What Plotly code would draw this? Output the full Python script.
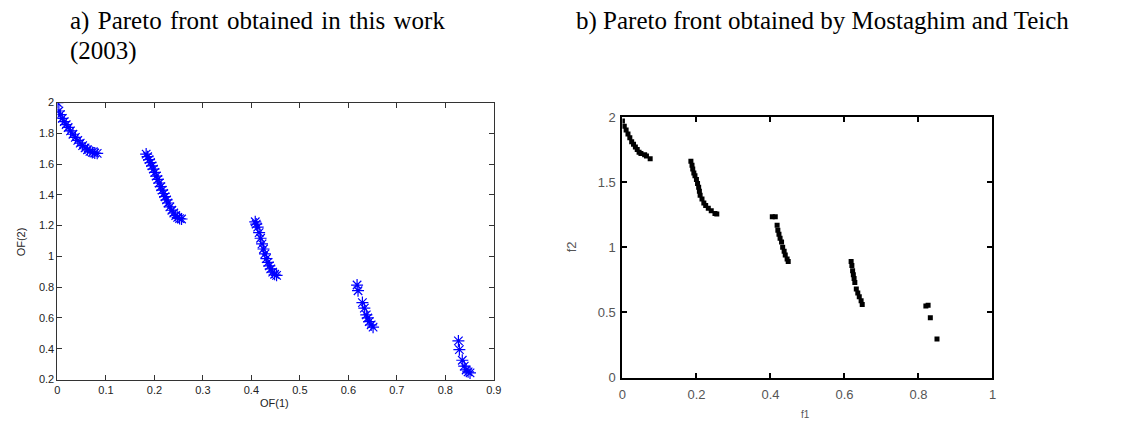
import plotly.graph_objects as go

W, H = 1141, 429

# ---- Data: panel a (this work) ----
a_f1 = [0.000, 0.003, 0.006, 0.010, 0.014, 0.018, 0.022, 0.027, 0.032, 0.037, 0.042, 0.047,
        0.052, 0.057, 0.062, 0.067, 0.072, 0.077, 0.082,
        0.183, 0.186, 0.189, 0.192, 0.195, 0.198, 0.201, 0.204, 0.207, 0.210, 0.213, 0.216,
        0.219, 0.222, 0.225, 0.228, 0.232, 0.236, 0.240, 0.244, 0.248, 0.252, 0.256,
        0.408, 0.410, 0.413, 0.416, 0.419, 0.422, 0.425, 0.428, 0.431, 0.434, 0.437, 0.440,
        0.444, 0.448, 0.452,
        0.618, 0.620, 0.629, 0.633, 0.637, 0.640, 0.643, 0.647, 0.651,
        0.827, 0.829, 0.835, 0.839, 0.843, 0.847, 0.851]
a_f2 = [2.000, 1.945, 1.921, 1.897, 1.876, 1.856, 1.838, 1.816, 1.794, 1.774, 1.754, 1.736,
        1.720, 1.705, 1.693, 1.683, 1.676, 1.672, 1.670,
        1.665, 1.648, 1.629, 1.610, 1.588, 1.567, 1.546, 1.522, 1.500, 1.477, 1.453, 1.431,
        1.409, 1.388, 1.367, 1.347, 1.322, 1.300, 1.282, 1.266, 1.254, 1.246, 1.243,
        1.225, 1.210, 1.190, 1.155, 1.118, 1.081, 1.048, 1.016, 0.986, 0.961, 0.938, 0.919,
        0.898, 0.884, 0.877,
        0.814, 0.777, 0.700, 0.664, 0.620, 0.600, 0.576, 0.555, 0.540,
        0.451, 0.394, 0.325, 0.287, 0.262, 0.250, 0.243]

# ---- Data: panel b (Mostaghim and Teich 2003) ----
b_f1 = [0.000, 0.005, 0.010, 0.015, 0.020, 0.025, 0.030, 0.035, 0.040, 0.045, 0.050, 0.060,
        0.065, 0.075,
        0.185, 0.188, 0.190, 0.193, 0.196, 0.200, 0.203, 0.206, 0.208, 0.210, 0.215, 0.220,
        0.225, 0.232, 0.240, 0.250, 0.255,
        0.405, 0.413, 0.418, 0.420, 0.423, 0.426, 0.430, 0.433, 0.437, 0.440, 0.445, 0.448,
        0.618, 0.620, 0.622, 0.624, 0.626, 0.628, 0.632, 0.636, 0.640, 0.645, 0.648,
        0.820, 0.826, 0.832, 0.850]
b_f2 = [1.970, 1.930, 1.900, 1.870, 1.840, 1.810, 1.790, 1.770, 1.750, 1.730, 1.720, 1.710,
        1.700, 1.680,
        1.660, 1.630, 1.600, 1.570, 1.550, 1.520, 1.490, 1.460, 1.430, 1.400, 1.370, 1.340,
        1.320, 1.300, 1.280, 1.260, 1.255,
        1.235, 1.235, 1.170, 1.130, 1.100, 1.070, 1.040, 1.000, 0.970, 0.940, 0.910, 0.890,
        0.890, 0.860, 0.820, 0.790, 0.760, 0.730, 0.680, 0.650, 0.620, 0.590, 0.560,
        0.550, 0.556, 0.460, 0.296]

a_xticks = [0, 0.1, 0.2, 0.3, 0.4, 0.5, 0.6, 0.7, 0.8, 0.9]
a_xtext = ["0", "0.1", "0.2", "0.3", "0.4", "0.5", "0.6", "0.7", "0.8", "0.9"]
a_yticks = [0.2, 0.4, 0.6, 0.8, 1.0, 1.2, 1.4, 1.6, 1.8, 2.0]
a_ytext = ["0.2", "0.4", "0.6", "0.8", "1", "1.2", "1.4", "1.6", "1.8", "2"]
b_xticks = [0, 0.2, 0.4, 0.6, 0.8, 1.0]
b_xtext = ["0", "0.2", "0.4", "0.6", "0.8", "1"]
b_yticks = [0, 0.5, 1.0, 1.5, 2.0]
b_ytext = ["0", "0.5", "1", "1.5", "2"]

fig = go.Figure()
fig.add_trace(go.Scatter(
    x=a_f1, y=a_f2, mode="markers", xaxis="x", yaxis="y",
    marker=dict(symbol="asterisk-open", size=10, color="#0000ff",
                line=dict(width=1.2, color="#0000ff")),
    showlegend=False))
fig.add_trace(go.Scatter(
    x=b_f1, y=b_f2, mode="markers", xaxis="x2", yaxis="y2",
    marker=dict(symbol="square", size=5, color="black", line=dict(width=0)),
    showlegend=False))

def px(x):
    return x / W

def py(y):
    return 1 - y / H

axa = dict(showline=True, linecolor="#333", linewidth=1, mirror="allticks",
           ticks="inside", ticklen=5, tickcolor="#333", showgrid=False, zeroline=False,
           tickfont=dict(family="Liberation Sans, Arial", size=11, color="#222"))
axb = dict(showline=True, linecolor="black", linewidth=2, mirror="allticks",
           ticks="inside", ticklen=5, tickwidth=1.5, tickcolor="black", showgrid=False,
           zeroline=False,
           tickfont=dict(family="Liberation Sans, Arial", size=13, color="#555"))

fig.update_layout(
    width=W, height=H, margin=dict(l=0, r=0, t=0, b=0),
    paper_bgcolor="white", plot_bgcolor="white",
    xaxis=dict(axa, domain=[px(54), px(495)], range=[0, 0.9],
               tickvals=a_xticks, ticktext=a_xtext, anchor="y"),
    yaxis=dict(axa, domain=[py(386), py(99)], range=[0.2, 2.0],
               tickvals=a_yticks, ticktext=a_ytext, anchor="x"),
    xaxis2=dict(axb, domain=[px(625), px(999)], range=[0, 1.0],
                tickvals=b_xticks, ticktext=b_xtext, anchor="y2", ticklabelstandoff=4),
    yaxis2=dict(axb, domain=[py(384), py(114)], range=[0, 2.0],
                tickvals=b_yticks, ticktext=b_ytext, anchor="x2", ticklabelstandoff=2),
)

serif = "Liberation Serif, Times New Roman, serif"
sans = "Liberation Sans, Arial, sans-serif"
hs = "\u200a"
annos = [
    dict(text=f"a){hs} Pareto{hs} front{hs} obtained{hs} in{hs} this{hs} work",
         x=px(65), y=py(15), xanchor="left", yanchor="middle",
         font=dict(family=serif, size=25, color="black")),
    dict(text="(2003)", x=px(65), y=py(46), xanchor="left", yanchor="middle",
         font=dict(family=serif, size=25, color="black")),
    dict(text="b) Pareto front obtained by Mostaghim and Teich",
         x=px(576), y=py(15), xanchor="left", yanchor="middle",
         font=dict(family=serif, size=25, color="black")),
    dict(text="OF(1)", x=px(273), y=py(410), xanchor="center", yanchor="middle",
         font=dict(family=sans, size=11, color="#222")),
    dict(text="OF(2)", x=px(17), y=py(243), xanchor="center", yanchor="middle",
         textangle=-90, font=dict(family=sans, size=11, color="#222")),
    dict(text="f1", x=px(810), y=py(422), xanchor="center", yanchor="middle",
         font=dict(family=sans, size=10, color="#555")),
    dict(text="f2", x=px(573), y=py(248), xanchor="center", yanchor="middle",
         textangle=-90, font=dict(family=sans, size=13, color="#555")),
]
for a in annos:
    a.update(xref="paper", yref="paper", showarrow=False)
fig.update_layout(annotations=annos)

fig.write_html(
    "out.html",
    post_script="document.body.style.margin='0';document.body.style.overflow='hidden';",
)
